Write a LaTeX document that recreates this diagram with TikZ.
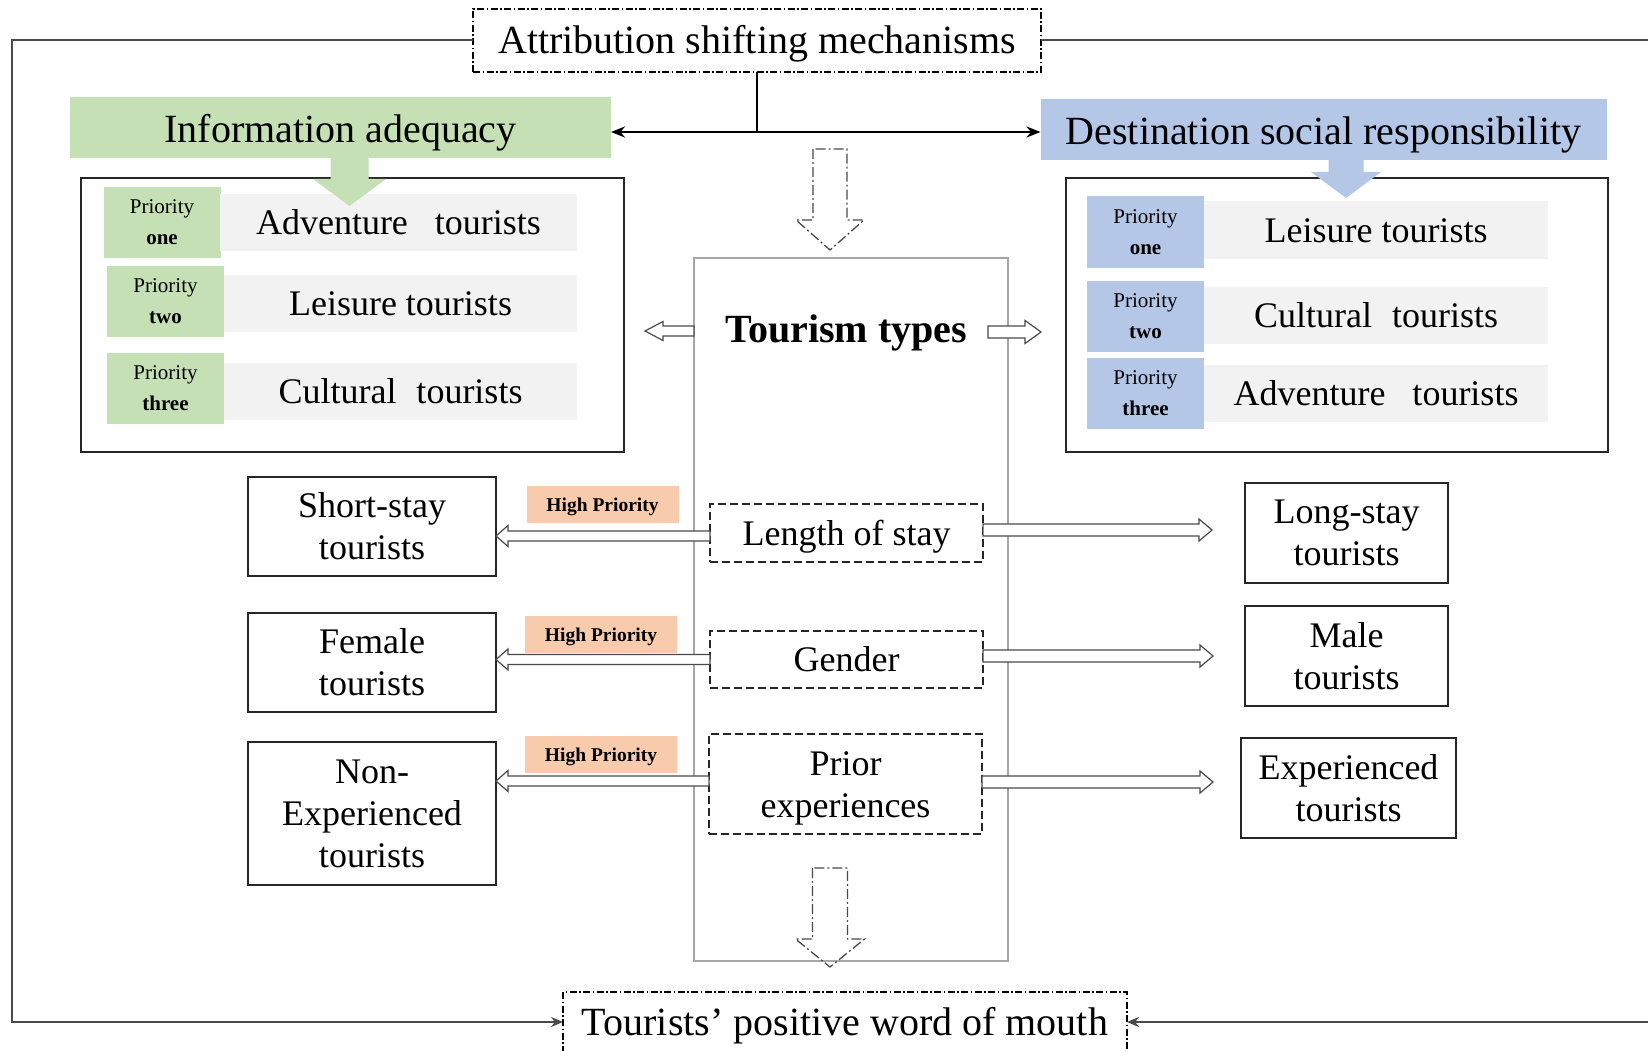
\documentclass[tikz,border=0pt]{standalone}
\usepackage{fontspec}
\setmainfont{Liberation Serif}
\usetikzlibrary{arrows.meta,calc}

\definecolor{iagreen}{HTML}{C5E0B4}
\definecolor{dsrblue}{HTML}{B4C7E7}
\definecolor{barfill}{HTML}{F2F2F2}
\definecolor{hpfill}{HTML}{F8CBAD}
\definecolor{framegray}{HTML}{A6A6A6}
\definecolor{linegray}{HTML}{4A4A4A}

\begin{document}
\begin{tikzpicture}[x=1pt,y=-1pt,
  every node/.style={inner sep=0pt, outer sep=0pt, align=center},
  headfont/.style={font=\fontsize{40}{46}\selectfont, text height=34pt, text depth=7pt},
  bodyfont/.style={font=\fontsize{36}{42}\selectfont},
  oneline/.style={text height=30.6pt, text depth=6.3pt},
  dashdotbox/.style={draw=black, line width=1.2pt, dash pattern=on 7pt off 2.5pt on 1.5pt off 2.5pt, fill=white, headfont},
  solidbox/.style={draw=black!85, line width=1.4pt, bodyfont},
  dashbox/.style={draw=black!85, line width=1.4pt, dash pattern=on 8pt off 4pt, bodyfont},
  prio/.style={minimum width=117pt, minimum height=71pt, font=\fontsize{21}{31}\selectfont},
  bar/.style={fill=barfill, minimum height=57pt, bodyfont, oneline},
  hp/.style={fill=hpfill, minimum width=152pt, minimum height=37pt, font=\fontsize{19.5}{22}\selectfont\bfseries, text height=18pt, text depth=3.4pt},
  loopline/.style={draw=linegray, line width=2pt},
  looptip/.style={-{Stealth[length=12pt,width=10pt]}},
  ttip/.style={-{Stealth[length=14pt,width=11pt]}},
  % horizontal block arrow: shaft half-height, head half-height, head length
  harr/.style n args={3}{to path={let \p1=(\tikztostart), \p2=(\tikztotarget |- \tikztostart), \p3=($(\p2)!#3!(\p1)$) in
    (\x1,\y1+#1) -- (\x3,\y1+#1) -- (\x3,\y1+#2) -- (\p2) -- (\x3,\y1-#2) -- (\x3,\y1-#1) -- (\x1,\y1-#1) -- cycle}},
  % vertical block arrow: shaft half-width, head half-width, head length
  varr/.style n args={3}{to path={let \p1=(\tikztostart), \p2=(\tikztostart |- \tikztotarget), \p3=($(\p2)!#3!(\p1)$) in
    (\x1-#1,\y1) -- (\x1-#1,\y3) -- (\x1-#2,\y3) -- (\p2) -- (\x1+#2,\y3) -- (\x1+#1,\y3) -- (\x1+#1,\y1) -- cycle}},
  hollow/.style={draw=linegray, line width=1.2pt, fill=white, line join=miter},
  dashdotarrow/.style={draw=linegray, line width=1.3pt, dash pattern=on 10pt off 3pt on 2pt off 3pt},
]
\useasboundingbox (0,0) rectangle (1648,1051);

% ---- top and bottom statements
\node[dashdotbox, minimum width=568pt, minimum height=63pt] (title) at (757,40.5) {Attribution shifting mechanisms};
\node[dashdotbox, minimum width=564pt, minimum height=60pt] (bottom) at (845,1022) {Tourists’ positive word of mouth};

% ---- outer feedback loop
\coordinate (lt) at (12,40.5);
\coordinate (lb) at (12,1022);
\coordinate (rt) at (1652,40.5);
\coordinate (rb) at (1652,1022);
\draw[loopline, looptip] (title.west) -- (lt) -- (lb) -- (bottom.west);
\draw[loopline, looptip] (title.east) -- (rt) -- (rb) -- (bottom.east);

% ---- the two mechanisms
\node[fill=iagreen, headfont, text height=38pt, minimum width=541pt, minimum height=61pt] (info) at (340.5,127.5) {Information adequacy};
\node[fill=dsrblue, headfont, text height=37pt, minimum width=566pt, minimum height=61pt] (dsr) at (1323.5,129.5) {Destination social responsibility};

\coordinate (junc) at (title.south |- 0,132);
\draw[line width=2.5pt] (title.south) -- (junc);
\draw[line width=2.5pt, ttip] (junc) -- (junc -| info.east);
\draw[line width=2.5pt, ttip] (junc) -- (junc -| dsr.west);

% ---- priority panels
\node[draw=black!85, line width=1.4pt, minimum width=543pt, minimum height=274pt] (lpanel) at (352.5,315) {};
\node[draw=black!85, line width=1.4pt, minimum width=542pt, minimum height=274pt] (rpanel) at (1337,315) {};

\node[prio, fill=iagreen] (p1l) at (162,222.5) {Priority\\\textbf{one}};
\node[bar, minimum width=357pt] (b1l) at (398.5,222.5) {Adventure\hspace{27pt}tourists};
\node[prio, fill=iagreen] (p2l) at (165.5,301.5) {Priority\\\textbf{two}};
\node[bar, minimum width=353pt] (b2l) at (400.5,303.5) {Leisure tourists};
\node[prio, fill=iagreen] (p3l) at (165.5,388) {Priority\\\textbf{three}};
\node[bar, minimum width=353pt] (b3l) at (400.5,391) {Cultural\hspace{20pt}tourists};

\node[prio, fill=dsrblue] (p1r) at (1145.5,232) {Priority\\\textbf{one}};
\node[bar, minimum width=344pt] (b1r) at (1376,230) {Leisure tourists};
\node[prio, fill=dsrblue] (p2r) at (1145.5,316.5) {Priority\\\textbf{two}};
\node[bar, minimum width=344pt] (b2r) at (1376,315) {Cultural\hspace{20pt}tourists};
\node[prio, fill=dsrblue] (p3r) at (1145.5,393.5) {Priority\\\textbf{three}};
\node[bar, minimum width=344pt] (b3r) at (1376,393.5) {Adventure\hspace{27pt}tourists};

\coordinate (gtip) at (349.5,206);
\coordinate (btip) at (1346,198);
\path[fill=iagreen, varr={19pt}{36.5pt}{27pt}] ([xshift=9pt]info.south) to (gtip);
\path[fill=dsrblue, varr={17.5pt}{35pt}{26pt}] ([xshift=22.5pt]dsr.south) to (btip);

% ---- tourism types column
\node[draw=framegray, line width=1.2pt, minimum width=314pt, minimum height=703pt] (tall) at (851,609.5) {};
\node[font=\fontsize{40}{46}\selectfont\bfseries] (tt) at (846,333) {Tourism types};

\node[dashbox, oneline, minimum width=273pt, minimum height=58pt] (len) at (846.5,533) {Length of stay};
\node[dashbox, oneline, minimum width=273pt, minimum height=57pt] (gender) at (846.5,659.5) {Gender};
\node[dashbox, minimum width=273pt, minimum height=100pt] (prior) at (845.5,784) {};
\node[bodyfont] (priortext) at ($(prior.center)+(0,4)$) {Prior\\experiences};

\node[solidbox, minimum width=248pt, minimum height=99pt] (short) at (372,526.5) {Short-stay\\tourists};
\node[solidbox, minimum width=248pt, minimum height=99pt] (female) at (372,662.5) {Female\\tourists};
\node[solidbox, minimum width=248pt, minimum height=143pt] (nonexp) at (372,813.5) {Non-\\Experienced\\tourists};

\node[solidbox, minimum width=203pt, minimum height=100pt] (long) at (1346.5,533) {Long-stay\\tourists};
\node[solidbox, minimum width=203pt, minimum height=100pt] (male) at (1346.5,656) {Male\\tourists};
\node[solidbox, minimum width=215pt, minimum height=100pt] (exp) at (1348.5,788) {Experienced\\tourists};

\node[hp] (hp1) at (602.5,504) {High Priority};
\node[hp] (hp2) at (601,634.5) {High Priority};
\node[hp] (hp3) at (601,754.5) {High Priority};

% ---- hollow arrows
\coordinate (ttl) at ($(lpanel.east |- 0,331)+(21,0)$);
\coordinate (ttls) at (tall.west |- 0,331);
\coordinate (ttrs) at (988,332);
\coordinate (ttr) at ($(rpanel.west |- 0,332)+(-25,0)$);
\draw[hollow, harr={5pt}{9.5pt}{18pt}] (ttls) to (ttl);
\draw[hollow, harr={6pt}{11.5pt}{16pt}] (ttrs) to (ttr);

\draw[hollow, harr={5pt}{10.5pt}{12pt}] ([yshift=-3pt]len.west) to (short.east);
\draw[hollow, harr={5pt}{10.5pt}{12pt}] (gender.west) to (female.east);
\draw[hollow, harr={5pt}{10.5pt}{12pt}] ([yshift=3pt]prior.west) to (nonexp.east);

\coordinate (r1) at ($(long.west)+(-33,0)$);
\coordinate (r2) at ($(male.west)+(-32,0)$);
\coordinate (r3) at ($(exp.west)+(-28,0)$);
\draw[hollow, harr={6pt}{11pt}{13pt}] ([yshift=3pt]len.east) to (r1);
\draw[hollow, harr={6pt}{11pt}{13pt}] ([yshift=3.5pt]gender.east) to (r2);
\draw[hollow, harr={6pt}{11pt}{13pt}] ([yshift=2pt]prior.east) to (r3);

% ---- dash-dot flow arrows through the column
\coordinate (dtop) at (830,149);
\coordinate (dbot) at (830,868);
\draw[dashdotarrow, varr={17pt}{34pt}{30pt}] (dtop) to ($(tall.north)+(-21,-8)$);
\draw[dashdotarrow, varr={17.5pt}{34.5pt}{28pt}] (dbot) to ($(tall.south)+(-21,6)$);
\end{tikzpicture}
\end{document}
